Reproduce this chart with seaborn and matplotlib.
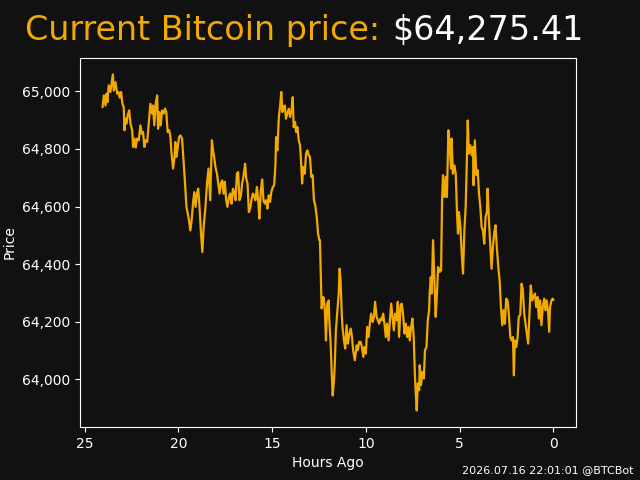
import numpy as np
import pandas as pd
import matplotlib
matplotlib.use("Agg")
import matplotlib.pyplot as plt
import matplotlib.ticker as mticker
import seaborn as sns

# hours before now, and the BTC price
hours_ago = [24.04, 23.97, 23.88, 23.83, 23.78, 23.71, 23.62, 23.49, 23.44, 23.35,
             23.26, 23.19, 23.12, 23.05, 22.98, 22.91, 22.87, 22.82, 22.77, 22.70,
             22.62, 22.55, 22.46, 22.41, 22.34, 22.27, 22.20, 22.11, 22.02, 21.95,
             21.88, 21.81, 21.74, 21.66, 21.58, 21.49, 21.40, 21.35, 21.28, 21.21,
             21.13, 21.08, 21.01, 20.94, 20.87, 20.78, 20.71, 20.64, 20.57, 20.49,
             20.43, 20.36, 20.28, 20.21, 20.16, 20.11, 20.04, 19.96, 19.89, 19.80,
             19.72, 19.63, 19.57, 19.51, 19.43, 19.36, 19.29, 19.22, 19.15, 19.08,
             19.01, 18.94, 18.87, 18.79, 18.72, 18.65, 18.56, 18.47, 18.39, 18.30,
             18.21, 18.15, 18.09, 18.02, 17.94, 17.87, 17.80, 17.73, 17.66, 17.59,
             17.52, 17.45, 17.38, 17.30, 17.23, 17.16, 17.09, 17.02, 16.95, 16.88,
             16.81, 16.74, 16.66, 16.60, 16.53, 16.44, 16.38, 16.31, 16.24, 16.17,
             16.10, 16.03, 15.96, 15.89, 15.81, 15.74, 15.68, 15.60, 15.53, 15.46,
             15.39, 15.32, 15.25, 15.18, 15.11, 15.04, 14.96, 14.89, 14.82, 14.79,
             14.72, 14.64, 14.57, 14.51, 14.45, 14.40, 14.32, 14.26, 14.19, 14.11,
             14.04, 13.97, 13.90, 13.85, 13.78, 13.72, 13.65, 13.58, 13.51, 13.46,
             13.40, 13.34, 13.26, 13.19, 13.12, 13.05, 12.98, 12.91, 12.84, 12.77,
             12.70, 12.62, 12.55, 12.48, 12.45, 12.39, 12.36, 12.27, 12.23, 12.18,
             12.13, 12.06, 11.98, 11.95, 11.88, 11.82, 11.77, 11.70, 11.65, 11.60,
             11.53, 11.45, 11.40, 11.35, 11.28, 11.24, 11.17, 11.10, 11.03, 10.96,
             10.89, 10.81, 10.74, 10.68, 10.59, 10.49, 10.43, 10.36, 10.28, 10.21,
             10.14, 10.07, 10.00, 9.93, 9.86, 9.79, 9.72, 9.64, 9.57, 9.51,
             9.43, 9.36, 9.29, 9.22, 9.15, 9.08, 9.01, 8.94, 8.87, 8.79,
             8.72, 8.65, 8.58, 8.51, 8.44, 8.37, 8.30, 8.23, 8.15, 8.09,
             8.02, 7.94, 7.87, 7.80, 7.73, 7.66, 7.59, 7.52, 7.45, 7.39,
             7.34, 7.29, 7.23, 7.16, 7.13, 7.06, 6.98, 6.91, 6.85, 6.77,
             6.70, 6.63, 6.60, 6.54, 6.49, 6.42, 6.35, 6.28, 6.21, 6.15,
             6.06, 5.99, 5.94, 5.89, 5.81, 5.74, 5.68, 5.60, 5.53, 5.46,
             5.43, 5.36, 5.28, 5.21, 5.14, 5.09, 5.04, 4.96, 4.89, 4.82,
             4.75, 4.68, 4.63, 4.57, 4.51, 4.43, 4.36, 4.29, 4.26, 4.19,
             4.11, 4.04, 3.97, 3.90, 3.83, 3.76, 3.69, 3.62, 3.55, 3.51,
             3.44, 3.37, 3.30, 3.23, 3.15, 3.09, 3.02, 2.94, 2.87, 2.80,
             2.73, 2.66, 2.59, 2.52, 2.45, 2.38, 2.30, 2.23, 2.16, 2.11,
             2.06, 1.98, 1.91, 1.85, 1.77, 1.70, 1.63, 1.56, 1.49, 1.42,
             1.35, 1.28, 1.21, 1.13, 1.06, 0.99, 0.92, 0.85, 0.78, 0.71,
             0.64, 0.57, 0.49, 0.43, 0.36, 0.28, 0.23, 0.18, 0.11, 0.04,
             0.00]
price = [64945, 64986, 64951, 64992, 64963, 65021, 64998, 65059, 65003, 65032,
         64992, 64998, 64978, 64998, 64957, 64945, 64865, 64905, 64888, 64917,
         64934, 64888, 64865, 64807, 64836, 64805, 64836, 64830, 64882, 64853,
         64859, 64807, 64830, 64825, 64888, 64957, 64923, 64951, 64882, 64957,
         64986, 64870, 64928, 64882, 64934, 64923, 64940, 64928, 64859, 64865,
         64847, 64784, 64732, 64767, 64824, 64772, 64801, 64841, 64847, 64836,
         64760, 64668, 64599, 64581, 64552, 64517, 64552, 64610, 64650, 64599,
         64645, 64662, 64599, 64506, 64442, 64529, 64593, 64680, 64732, 64622,
         64830, 64795, 64772, 64737, 64714, 64680, 64645, 64680, 64691, 64645,
         64686, 64622, 64599, 64633, 64645, 64610, 64662, 64651, 64622, 64714,
         64720, 64622, 64639, 64680, 64703, 64749, 64697, 64680, 64581, 64593,
         64622, 64645, 64639, 64622, 64668, 64622, 64558, 64657, 64694, 64622,
         64610, 64622, 64593, 64639, 64616, 64651, 64668, 64674, 64749, 64841,
         64795, 64911, 64951, 64998, 64928, 64945, 64951, 64905, 64923, 64940,
         64911, 64934, 64980, 64876, 64894, 64859, 64876, 64830, 64813, 64760,
         64680, 64737, 64714, 64784, 64795, 64778, 64772, 64703, 64709, 64622,
         64604, 64564, 64506, 64483, 64483, 64321, 64246, 64286, 64274, 64228,
         64135, 64263, 64274, 64205, 64124, 64020, 63944, 63997, 64066, 64170,
         64228, 64298, 64384, 64344, 64217, 64176, 64135, 64107, 64188, 64124,
         64153, 64176, 64147, 64101, 64066, 64118, 64101, 64130, 64130, 64112,
         64078, 64112, 64089, 64182, 64147, 64193, 64228, 64199, 64217, 64269,
         64217, 64205, 64193, 64211, 64205, 64228, 64193, 64147, 64193, 64135,
         64205, 64263, 64217, 64170, 64228, 64205, 64269, 64147, 64257, 64263,
         64228, 64159, 64193, 64147, 64182, 64135, 64182, 64211, 64147, 64020,
         63951, 63892, 63986, 63962, 64049, 63980, 64026, 64003, 64101, 64112,
         64205, 64240, 64298, 64355, 64298, 64483, 64355, 64217, 64298, 64390,
         64373, 64379, 64622, 64709, 64633, 64703, 64633, 64865, 64807, 64732,
         64836, 64714, 64743, 64714, 64575, 64506, 64581, 64529, 64436, 64367,
         64517, 64599, 64726, 64899, 64784, 64813, 64778, 64807, 64674, 64830,
         64709, 64726, 64645, 64599, 64529, 64517, 64471, 64564, 64581, 64662,
         64552, 64471, 64384, 64459, 64512, 64535, 64459, 64390, 64344, 64251,
         64188, 64240, 64193, 64280, 64274, 64228, 64147, 64135, 64147, 64014,
         64135, 64112, 64147, 64217, 64223, 64332, 64309, 64228, 64193, 64159,
         64124, 64228, 64326, 64274, 64286, 64298, 64251, 64286, 64211, 64274,
         64188, 64251, 64280, 64240, 64274, 64228, 64165, 64251, 64274, 64280,
         64275.41]

current = price[-1]
stamp = "2026.07.16 22:01:01 @BTCBot"

bg = "#111111"
btc = "#f2a900"

sns.set_style("dark", {"axes.facecolor": bg, "figure.facecolor": bg,
                       "axes.edgecolor": "white", "text.color": "white",
                       "axes.labelcolor": "white", "xtick.color": "white",
                       "ytick.color": "white", "xtick.bottom": True,
                       "ytick.left": True})
plt.rcParams['font.family'] = ['DejaVu Sans']

df = pd.DataFrame({"hours": hours_ago, "price": price})

fig, ax = plt.subplots(figsize=(6.4, 4.8), dpi=100)
fig.patch.set_facecolor(bg)
sns.lineplot(data=df, x="hours", y="price", color=btc, linewidth=1.6, ax=ax)

ax.invert_xaxis()
ax.set_xlabel("Hours Ago", color="white")
ax.set_ylabel("Price", color="white")
ax.yaxis.set_major_formatter(mticker.StrMethodFormatter("{x:,.0f}"))
ax.tick_params(colors="white", length=3.5, width=0.8)
for s in ax.spines.values():
    s.set_color("white")
    s.set_linewidth(0.8)

# two-colour title
fig.text(380 / 640, 0.917, "Current Bitcoin price:", color=btc, fontsize=24,
         ha="right", va="baseline")
fig.text(392 / 640, 0.917, f"${current:,.2f}", color="white", fontsize=24,
         ha="left", va="baseline")
fig.text(0.99, 0.01, stamp, color="white", fontsize=8, ha="right", va="bottom")

fig.savefig("out.png", dpi=100, facecolor=bg)
